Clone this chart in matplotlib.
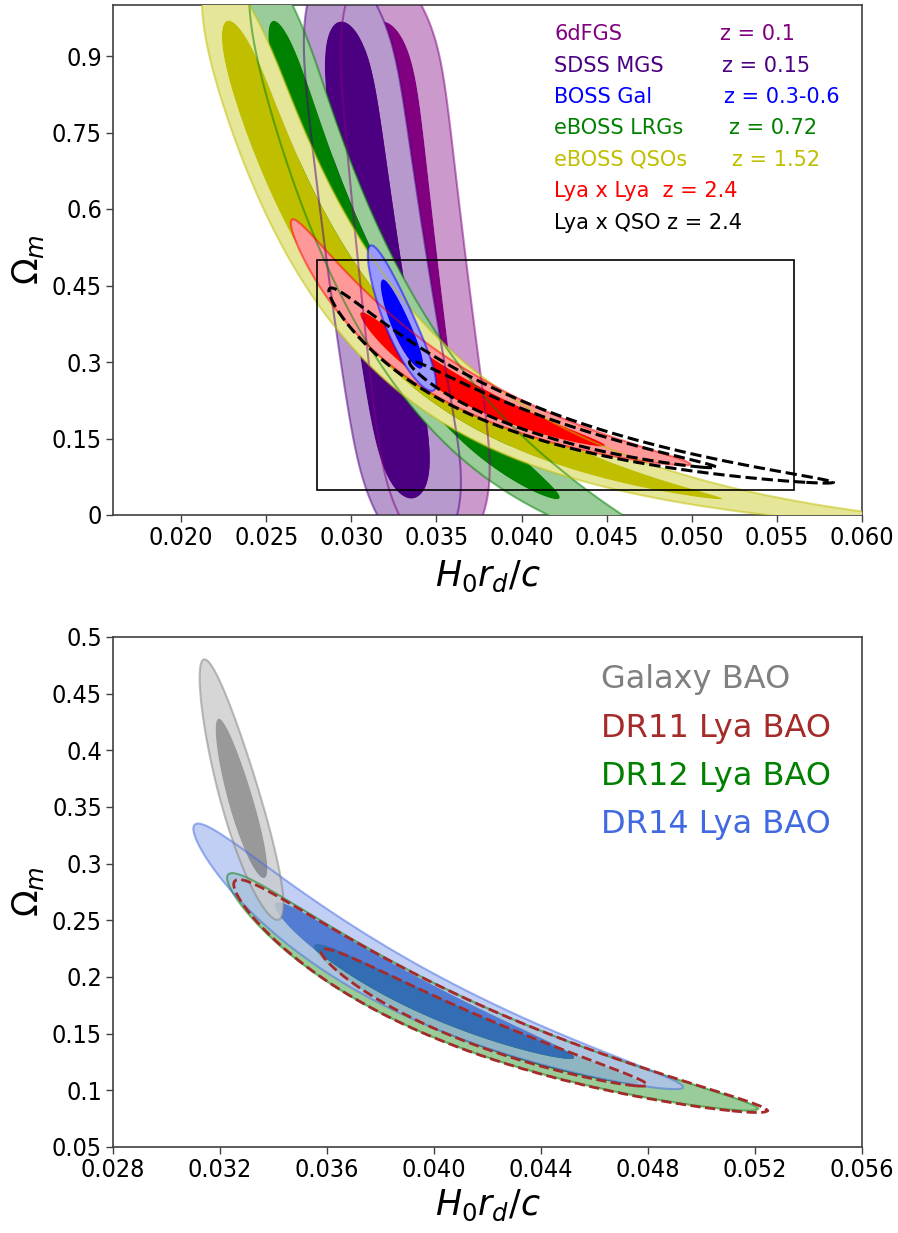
import numpy as np
import matplotlib
matplotlib.use("Agg")
import matplotlib.pyplot as plt
from matplotlib.colors import to_rgb
from matplotlib.patches import Rectangle

# ------------------------------------------------------------------
# DATA : BAO measurements (distance / r_d) estimated for the chart
# ------------------------------------------------------------------
# isotropic (D_V / r_d) measurements -- top panel
sixdf_z, sixdf_dv, sixdf_err = 0.106, 3.02, 0.13
mgs_z, mgs_dv, mgs_err = 0.15, 4.45, 0.19
lrg_z, lrg_dv, lrg_err = 0.72, 16.5, 0.50
qso_z, qso_dv, qso_err = 1.52, 26.3, 1.05

# anisotropic (D_M / r_d , D_H / r_d, correlation) -- top panel
boss_z, boss_dm, boss_dm_err, boss_dh, boss_dh_err, boss_rho = 0.51, 13.30, 0.16, 22.02, 0.42, 0.4
lyalya_z, lyalya_dm, lyalya_dm_err, lyalya_dh, lyalya_dh_err, lyalya_rho = 2.34, 37.8, 1.55, 8.78, 0.36, -0.3
lyaqso_z, lyaqso_dm, lyaqso_dm_err, lyaqso_dh, lyaqso_dh_err, lyaqso_rho = 2.35, 36.6, 2.00, 8.97, 0.33, -0.3

# bottom panel
gal_z, gal_dm, gal_dm_err, gal_dh, gal_dh_err, gal_rho = 0.51, 13.43, 0.13, 22.34, 0.37, 0.45
dr11_z, dr11_dm, dr11_dm_err, dr11_dh, dr11_dh_err, dr11_rho = 2.34, 37.5, 1.60, 9.41, 0.245, 0.0
dr12_z, dr12_dm, dr12_dm_err, dr12_dh, dr12_dh_err, dr12_rho = 2.34, 37.6, 1.60, 9.40, 0.245, 0.0
dr14_z, dr14_dm, dr14_dm_err, dr14_dh, dr14_dh_err, dr14_rho = 2.34, 37.9, 1.50, 9.17, 0.23, 0.0

# legend labels
top_names = ["6dFGS", "SDSS MGS", "BOSS Gal", "eBOSS LRGs", "eBOSS QSOs",
             "Lya x Lya  z = 2.4", "Lya x QSO z = 2.4"]
top_zlabels = ["z = 0.1", "z = 0.15", "z = 0.3-0.6", "z = 0.72", "z = 1.52", "", ""]
bottom_names = ["Galaxy BAO", "DR11 Lya BAO", "DR12 Lya BAO", "DR14 Lya BAO"]

# axis ranges / ticks
top_xlim = (0.016, 0.060)
top_ylim = (0.0, 1.0)
top_xticks = [0.020, 0.025, 0.030, 0.035, 0.040, 0.045, 0.050, 0.055, 0.060]
top_yticks = [0, 0.15, 0.3, 0.45, 0.6, 0.75, 0.9]
top_yticklabels = ["0", "0.15", "0.3", "0.45", "0.6", "0.75", "0.9"]
zoom_xlim = (0.028, 0.056)
zoom_ylim = (0.05, 0.5)
bot_xticks = [0.028, 0.032, 0.036, 0.040, 0.044, 0.048, 0.052, 0.056]
bot_yticks = [0.05, 0.1, 0.15, 0.2, 0.25, 0.3, 0.35, 0.4, 0.45, 0.5]
bot_yticklabels = ["0.05", "0.1", "0.15", "0.2", "0.25", "0.3", "0.35", "0.4", "0.45", "0.5"]

# prior on Omega_m used for the D_V-only bands (soft box)
prior_lo, prior_hi, prior_soft = 0.035, 0.965, 0.05

# ------------------------------------------------------------------
# likelihood machinery (flat LCDM, x = H0 r_d / c)
# ------------------------------------------------------------------
Z_GRID = np.linspace(0.0, 2.5, 2501)
OM = np.linspace(-0.45, 1.45, 951)
XX = np.linspace(0.010, 0.080, 1051)

_arg = OM[:, None] * (1 + Z_GRID[None, :]) ** 3 + 1 - OM[:, None]
_invE = 1.0 / np.sqrt(np.clip(_arg, 1e-10, None))
_dz = Z_GRID[1] - Z_GRID[0]
CUM_DM = np.concatenate([np.zeros((len(OM), 1)),
                         np.cumsum(0.5 * (_invE[:, 1:] + _invE[:, :-1]) * _dz, axis=1)], axis=1)


def dist(z):
    i = z / _dz
    i0 = int(np.floor(i))
    f = i - i0
    dm = CUM_DM[:, i0] * (1 - f) + CUM_DM[:, i0 + 1] * f
    dh = 1.0 / np.sqrt(np.clip(OM * (1 + z) ** 3 + 1 - OM, 1e-10, None))
    return dm, dh


def chi2_dv(z, m, s):
    dm, dh = dist(z)
    dv = (z * dm ** 2 * dh) ** (1 / 3.)
    return ((dv[:, None] / XX[None, :] - m) / s) ** 2


def chi2_aniso(z, mdm, sdm, mdh, sdh, rho):
    dm, dh = dist(z)
    u = (dm[:, None] / XX[None, :] - mdm) / sdm
    v = (dh[:, None] / XX[None, :] - mdh) / sdh
    return (u ** 2 + v ** 2 - 2 * rho * u * v) / (1 - rho ** 2)


def om_window():
    w = (1 / (1 + np.exp(-(OM - prior_lo) / prior_soft)) *
         1 / (1 + np.exp(-(prior_hi - OM) / prior_soft)))
    return w[:, None]


def posterior(chi2, band=False):
    p = np.exp(-0.5 * (chi2 - chi2.min()))
    if band:
        p = p * om_window()
    return p / p.max()


def hpd(p, fracs=(0.95, 0.68)):
    s = np.sort(p.ravel())[::-1]
    c = np.cumsum(s)
    c /= c[-1]
    return [s[np.searchsorted(c, f)] for f in fracs]


def light(c, a=0.4):
    c = np.array(to_rgb(c))
    return tuple(1 - a * (1 - c))


def fill(ax, p, color, alpha=1.0, z=1, line=True, lalpha=0.5, lw=1.5):
    l95, l68 = hpd(p)
    ax.contourf(XX, OM, p, levels=[l95, l68, 1.01], colors=[light(color), color],
                alpha=alpha, zorder=z, antialiased=True)
    if line:
        ax.contour(XX, OM, p, levels=[l95], colors=[color], alpha=lalpha,
                   linewidths=lw, zorder=10)


def dashed(ax, p, color, lw=2.2, z=12):
    l95, l68 = hpd(p)
    ax.contour(XX, OM, p, levels=[l95, l68], colors=[color, color],
               linestyles="--", linewidths=lw, zorder=z)


# ------------------------------------------------------------------
# figure
# ------------------------------------------------------------------
W, H = 898, 1233
fig = plt.figure(figsize=(W / 100, H / 100), dpi=100)
ax1 = fig.add_axes([113 / W, 1 - 515 / H, 749 / W, 510 / H])
ax2 = fig.add_axes([113 / W, 1 - 1147 / H, 749 / W, 510 / H])

# ---- top panel
p_6df = posterior(chi2_dv(sixdf_z, sixdf_dv, sixdf_err), band=True)
p_mgs = posterior(chi2_dv(mgs_z, mgs_dv, mgs_err), band=True)
p_lrg = posterior(chi2_dv(lrg_z, lrg_dv, lrg_err), band=True)
p_qso = posterior(chi2_dv(qso_z, qso_dv, qso_err), band=True)
p_lya = posterior(chi2_aniso(lyalya_z, lyalya_dm, lyalya_dm_err, lyalya_dh, lyalya_dh_err, lyalya_rho))
p_boss = posterior(chi2_aniso(boss_z, boss_dm, boss_dm_err, boss_dh, boss_dh_err, boss_rho))
p_lyq = posterior(chi2_aniso(lyaqso_z, lyaqso_dm, lyaqso_dm_err, lyaqso_dh, lyaqso_dh_err, lyaqso_rho))

fill(ax1, p_6df, "purple", z=1)
fill(ax1, p_mgs, "indigo", z=2)
fill(ax1, p_lrg, "green", z=3)
fill(ax1, p_qso, "y", z=4)
fill(ax1, p_lya, "red", z=5)
fill(ax1, p_boss, "blue", z=6)
dashed(ax1, p_lyq, "black")

ax1.add_patch(Rectangle((zoom_xlim[0], zoom_ylim[0]), zoom_xlim[1] - zoom_xlim[0],
                        zoom_ylim[1] - zoom_ylim[0], fill=False, ec="black", lw=1.2, zorder=15))

top_colors = ["purple", "indigo", "blue", "green", "y", "red", "black"]
top_zx = [0.810, 0.813, 0.816, 0.822, 0.826, 0, 0]
for i, (nm, zl, col) in enumerate(zip(top_names, top_zlabels, top_colors)):
    yy = 0.943 - i * 0.0617
    ax1.text(0.589, yy, nm, color=col, fontsize=15, transform=ax1.transAxes,
             va="center", ha="left", zorder=20)
    if zl:
        ax1.text(top_zx[i], yy, zl, color=col, fontsize=15, transform=ax1.transAxes,
                 va="center", ha="left", zorder=20)

ax1.set_xlim(*top_xlim)
ax1.set_ylim(*top_ylim)
ax1.set_xticks(top_xticks)
ax1.set_xticklabels(["%.3f" % t for t in top_xticks])
ax1.set_yticks(top_yticks)
ax1.set_yticklabels(top_yticklabels)
ax1.set_xlabel(r"$H_0r_d/c$", fontsize=25, labelpad=6)
ax1.set_ylabel(r"$\Omega_m$", fontsize=25, labelpad=4)

# ---- bottom panel
p_gal = posterior(chi2_aniso(gal_z, gal_dm, gal_dm_err, gal_dh, gal_dh_err, gal_rho))
p_dr11 = posterior(chi2_aniso(dr11_z, dr11_dm, dr11_dm_err, dr11_dh, dr11_dh_err, dr11_rho))
p_dr12 = posterior(chi2_aniso(dr12_z, dr12_dm, dr12_dm_err, dr12_dh, dr12_dh_err, dr12_rho))
p_dr14 = posterior(chi2_aniso(dr14_z, dr14_dm, dr14_dm_err, dr14_dh, dr14_dh_err, dr14_rho))

fill(ax2, p_dr12, "green", alpha=1.0, z=1)
fill(ax2, p_dr14, "royalblue", alpha=0.8, z=2)
fill(ax2, p_gal, "gray", alpha=0.8, z=3)
dashed(ax2, p_dr11, "brown", lw=2.0)

bot_colors = ["gray", "brown", "green", "royalblue"]
for i, (nm, col) in enumerate(zip(bottom_names, bot_colors)):
    ax2.text(0.652, 0.916 - i * 0.0945, nm, color=col, fontsize=23,
             transform=ax2.transAxes, va="center", ha="left", zorder=20)

ax2.set_xlim(*zoom_xlim)
ax2.set_ylim(*zoom_ylim)
ax2.set_xticks(bot_xticks)
ax2.set_xticklabels(["%.3f" % t for t in bot_xticks])
ax2.set_yticks(bot_yticks)
ax2.set_yticklabels(bot_yticklabels)
ax2.set_xlabel(r"$H_0r_d/c$", fontsize=25, labelpad=4)
ax2.set_ylabel(r"$\Omega_m$", fontsize=25, labelpad=4)

for ax in (ax1, ax2):
    for sp in ax.spines.values():
        sp.set_color("0.25")
        sp.set_linewidth(1.2)
    ax.tick_params(labelsize=18, length=5, width=1, color="0.25", pad=3)
    for lab in ax.get_xticklabels() + ax.get_yticklabels():
        lab.set_fontstretch("condensed")

fig.savefig("out.png", dpi=100)
